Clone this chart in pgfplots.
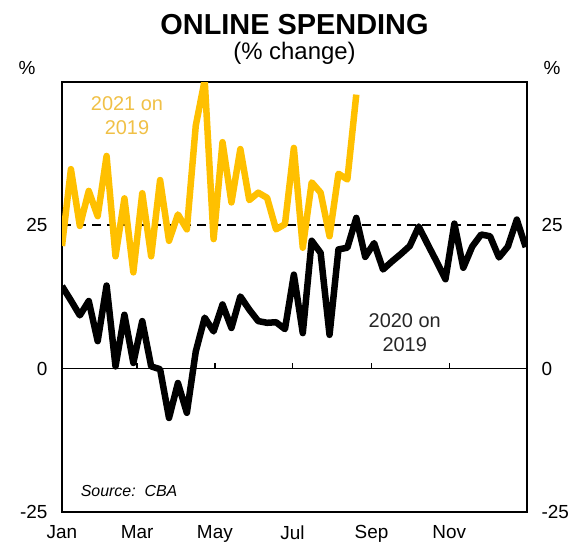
\documentclass[border=0pt]{standalone}
\usepackage{fontspec}
\setmainfont{Liberation Sans}
\usepackage{pgfplots}
\pgfplotsset{compat=1.18}
\definecolor{cbayellow}{RGB}{255,192,0}
\definecolor{labelyellow}{RGB}{240,192,70}

\begin{document}
\begin{tikzpicture}
\useasboundingbox (-62bp,-34bp) rectangle (511bp,512bp);
\begin{axis}[
  at={(0,0)}, anchor=south west,
  scale only axis, width=465bp, height=430bp,
  xmin=0, xmax=365, ymin=-25, ymax=50,
  xtick={0,59,120,181,243,304},
  xticklabels={Jan,Mar,May,Jul,Sep,Nov},
  ytick={-25,0,25},
  major tick length=0pt,
  axis line style={line width=1.9bp},
  tick label style={font=\fontsize{19}{22}\selectfont},
  xticklabel style={yshift=-10bp},
  yticklabel style={xshift=-11bp},
  /pgf/number format/assume math mode=true,
]
\draw[line width=1.4bp] (axis cs:0,0) -- (axis cs:365,0);
\draw[line width=2bp, dash pattern=on 9bp off 6bp] (axis cs:0,25) -- (axis cs:365,25);
\draw[line width=1.4bp] (axis cs:59,0) -- (axis cs:59,1);
\draw[line width=1.4bp] (axis cs:120,0) -- (axis cs:120,1);
\draw[line width=1.4bp] (axis cs:181,0) -- (axis cs:181,1);
\draw[line width=1.4bp] (axis cs:243,0) -- (axis cs:243,1);
\draw[line width=1.4bp] (axis cs:304,0) -- (axis cs:304,1);
\addplot[cbayellow, line width=6.5bp, line join=round] table {
0 21.4
7 34.8
14 24.9
21 31.0
28 26.6
35 37.1
42 19.6
49 29.7
56 16.8
63 30.6
70 19.6
77 32.9
84 22.3
91 26.9
98 24.3
105 42.4
112 50.3
119 22.6
126 39.5
133 29.0
140 38.3
147 29.4
154 30.7
161 29.8
168 24.3
175 25.2
182 38.5
189 21.1
196 32.5
203 30.7
210 23.1
217 34.0
224 33.0
231 47.8
};
\addplot[black, line width=6.5bp, line join=round] table {
0 14.4
7 11.9
14 9.3
21 11.8
28 4.8
35 14.5
42 0.4
49 9.4
56 1.0
63 8.3
70 0.4
77 -0.1
84 -8.6
91 -2.5
98 -7.7
105 3.0
112 8.9
119 6.5
126 11.2
133 7.1
140 12.6
147 10.3
154 8.3
161 8.0
168 8.1
175 6.9
182 16.4
189 6.2
196 22.3
203 20.2
210 5.9
217 20.8
224 21.1
231 26.3
238 19.5
245 21.9
252 17.3
259 18.7
266 20.0
273 21.4
280 24.8
287 21.7
294 18.7
301 15.6
308 25.3
315 17.6
322 21.3
329 23.4
336 23.1
343 19.4
350 21.3
357 26.0
364 21.2
};
\node[labelyellow, align=center, font=\fontsize{20}{24}\selectfont] at (axis cs:51,44.2) {2021 on\\2019};
\node[black!85, align=center, font=\fontsize{20}{24}\selectfont] at (axis cs:269,6.3) {2020 on\\2019};
\node[anchor=west, font=\itshape\fontsize{16}{19}\selectfont] at (axis cs:12,-21.3) {Source:\ \ CBA};
\end{axis}
\begin{axis}[
  at={(0,0)}, anchor=south west,
  scale only axis, width=465bp, height=430bp,
  xmin=0, xmax=365, ymin=-25, ymax=50,
  hide x axis,
  axis y line*=right,
  axis line style={line width=1.9bp},
  ytick={-25,0,25},
  major tick length=0pt,
  tick label style={font=\fontsize{19}{22}\selectfont},
  yticklabel style={xshift=11bp},
  /pgf/number format/assume math mode=true,
]
\end{axis}
\node[font=\bfseries\fontsize{29}{33}\selectfont] at (232.5bp,487bp) {ONLINE SPENDING};
\node[font=\fontsize{24}{28}\selectfont] at (232.5bp,459bp) {(\% change)};
\node[font=\fontsize{19}{22}\selectfont] at (-35bp,444bp) {\%};
\node[font=\fontsize{19}{22}\selectfont] at (490bp,444bp) {\%};
\end{tikzpicture}
\end{document}
